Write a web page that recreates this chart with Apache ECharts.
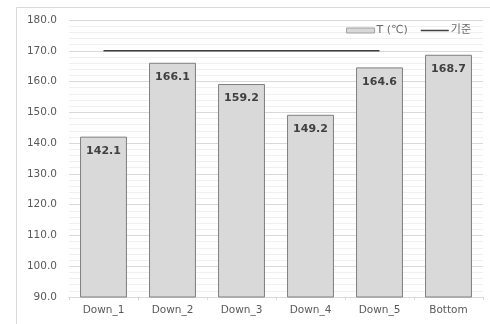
<!DOCTYPE html>
<html><head><meta charset="utf-8">
<script src="https://cdn.jsdelivr.net/npm/echarts@6/dist/echarts.min.js"></script>
<style>html,body{margin:0;padding:0;background:#fff}#c{width:490px;height:324px}</style>
</head><body><div id="c"></div>
<script>
var categories = ['Down_1','Down_2','Down_3','Down_4','Down_5','Bottom'];
var tValues = [142.1, 166.1, 159.2, 149.2, 164.6, 168.7];
var refValues = [170, 170, 170, 170, 170, null];
var seriesNames = ['T (℃)', '기준'];

var chart = echarts.init(document.getElementById('c'), null, {renderer:'canvas'});
var font = '"DejaVu Sans", "Noto Sans CJK KR", sans-serif';
chart.setOption({
  animation:false,
  backgroundColor:'#ffffff',
  graphic:[{type:'polyline', shape:{points:[[16.5,330],[16.5,7.5],[495,7.5]]}, style:{stroke:'#d9d9d9', fill:null, lineWidth:1}, silent:true}],
  legend:{
    top:20, right:14, itemGap:13, itemWidth:28, itemHeight:5,
    textStyle:{fontFamily:font, fontSize:11, color:'#6a6a6a', padding:[0,0,0,-3]},
    data:[{name:seriesNames[0], icon:'rect', itemStyle:{color:'#d9d9d9', borderColor:'#a0a0a0', borderWidth:1}},
          {name:seriesNames[1], icon:'path://M0,0 L28,0 L28,1.5 L0,1.5 Z', itemStyle:{color:'#404040'}}]
  },
  grid:{left:69, right:7, top:20, bottom:27},
  xAxis:{
    type:'category', data:categories,
    axisLine:{lineStyle:{color:'#d9d9d9'}},
    axisTick:{show:true, length:3, lineStyle:{color:'#d9d9d9'}},
    axisLabel:{fontFamily:font, fontSize:10.5, color:'#595959', margin:8}
  },
  yAxis:{
    type:'value', min:90, max:180, interval:10,
    axisLine:{show:false}, axisTick:{show:false},
    axisLabel:{fontFamily:font, fontSize:10.5, color:'#595959', margin:12, formatter:function(v){return v.toFixed(1);}},
    splitLine:{lineStyle:{color:'#d9d9d9'}},
    minorTick:{show:false, splitNumber:5},
    minorSplitLine:{show:true, lineStyle:{color:'#f0f0f0'}}
  },
  series:[
    {name:seriesNames[0], type:'bar', data:tValues, barWidth:'68%',
     itemStyle:{color:'#d9d9d9', borderColor:'#7f7f7f', borderWidth:1},
     label:{show:true, position:'insideTop', distance:9, fontFamily:font, fontSize:11, fontWeight:'bold', color:'#404040', formatter:function(p){return p.value.toFixed(1);}}},
    {name:seriesNames[1], type:'line', data:refValues, symbol:'none', showSymbol:false,
     lineStyle:{color:'#404040', width:1.5}, itemStyle:{color:'#404040'}}
  ]
});
</script></body></html>
